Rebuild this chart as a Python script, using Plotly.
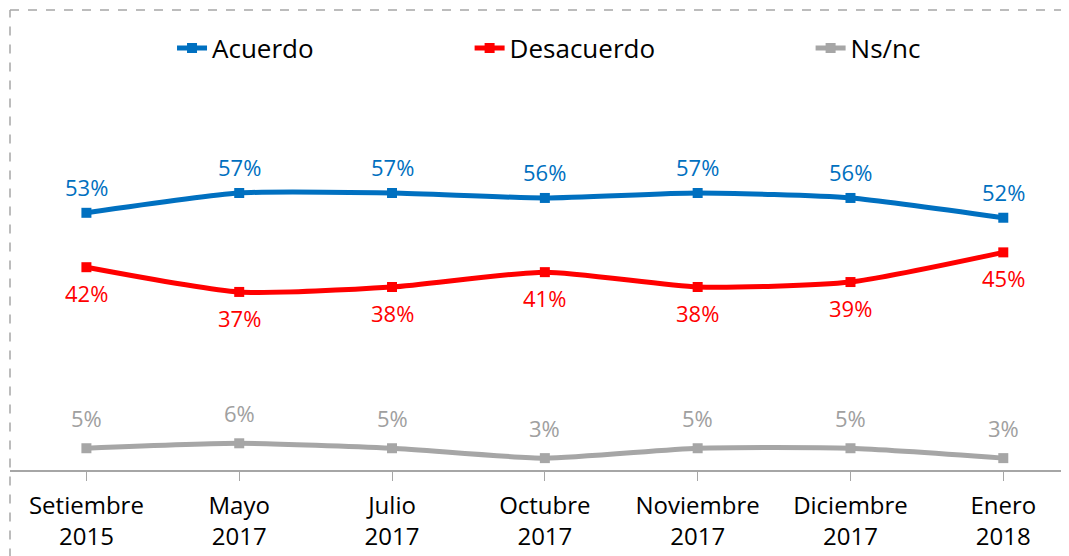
import plotly.graph_objects as go

categories = ["Setiembre<br>2015", "Mayo<br>2017", "Julio<br>2017", "Octubre<br>2017",
              "Noviembre<br>2017", "Diciembre<br>2017", "Enero<br>2018"]
acuerdo = [53, 57, 57, 56, 57, 56, 52]
desacuerdo = [42, 37, 38, 41, 38, 39, 45]
nsnc = [5.4, 6.4, 5.4, 3.4, 5.4, 5.4, 3.4]
nsnc_labels = ["5%", "6%", "5%", "3%", "5%", "5%", "3%"]

BLUE = "#0070C0"
RED = "#FF0000"
GRAY = "#A6A6A6"
FONT = "Open Sans"

x = list(range(len(categories)))

fig = go.Figure()
series = [
    ("Acuerdo", acuerdo, BLUE, "legend"),
    ("Desacuerdo", desacuerdo, RED, "legend2"),
    ("Ns/nc", nsnc, GRAY, "legend3"),
]
for name, vals, col, lg in series:
    fig.add_trace(go.Scatter(
        x=x, y=vals, name=name, mode="lines+markers",
        line=dict(color=col, width=5, shape="spline", smoothing=0.6),
        marker=dict(symbol="square", size=10, color=col),
        legend=lg, hoverinfo="skip",
    ))

annotations = []
for i, v in enumerate(acuerdo):
    annotations.append(dict(x=i, y=v, text=f"{v}%", showarrow=False, yshift=26,
                            font=dict(family=FONT, size=22, color=BLUE)))
for i, v in enumerate(desacuerdo):
    annotations.append(dict(x=i, y=v, text=f"{v}%", showarrow=False, yshift=-26,
                            font=dict(family=FONT, size=22, color=RED)))
for i, v in enumerate(nsnc):
    annotations.append(dict(x=i, y=v, text=nsnc_labels[i], showarrow=False, yshift=30,
                            font=dict(family=FONT, size=22, color="#A0A0A0")))

legend_common = dict(orientation="h", yanchor="middle", y=0.917, xanchor="left",
                     font=dict(family=FONT, size=26, color="black"),
                     bgcolor="rgba(0,0,0,0)")

fig.update_layout(
    width=1061, height=548,
    margin=dict(l=2, r=0, t=2, b=86),
    plot_bgcolor="white", paper_bgcolor="white",
    showlegend=True,
    legend=dict(x=0.153, **legend_common),
    legend2=dict(x=0.434, **legend_common),
    legend3=dict(x=0.756, **legend_common),
    annotations=annotations,
    xaxis=dict(
        tickmode="array", tickvals=x, ticktext=categories,
        range=[-0.5, 6.43], showgrid=False, zeroline=False,
        showline=True, linecolor="#A6A6A6", linewidth=1.5,
        ticks="outside", tickson="boundaries", ticklen=9, tickcolor="#A6A6A6",
        ticklabelstandoff=4,
        tickfont=dict(family=FONT, size=24, color="black"),
    ),
    yaxis=dict(range=[1, 94], visible=False, showgrid=False, zeroline=False),
    shapes=[
        dict(type="line", xref="paper", yref="paper", x0=0, x1=0, y0=-0.19, y1=1,
             line=dict(color="#A6A6A6", width=1.5, dash="dash")),
        dict(type="line", xref="paper", yref="paper", x0=0, x1=1, y0=1, y1=1,
             line=dict(color="#A6A6A6", width=1.5, dash="dash")),
    ],
)

fig.write_html("out.html")
